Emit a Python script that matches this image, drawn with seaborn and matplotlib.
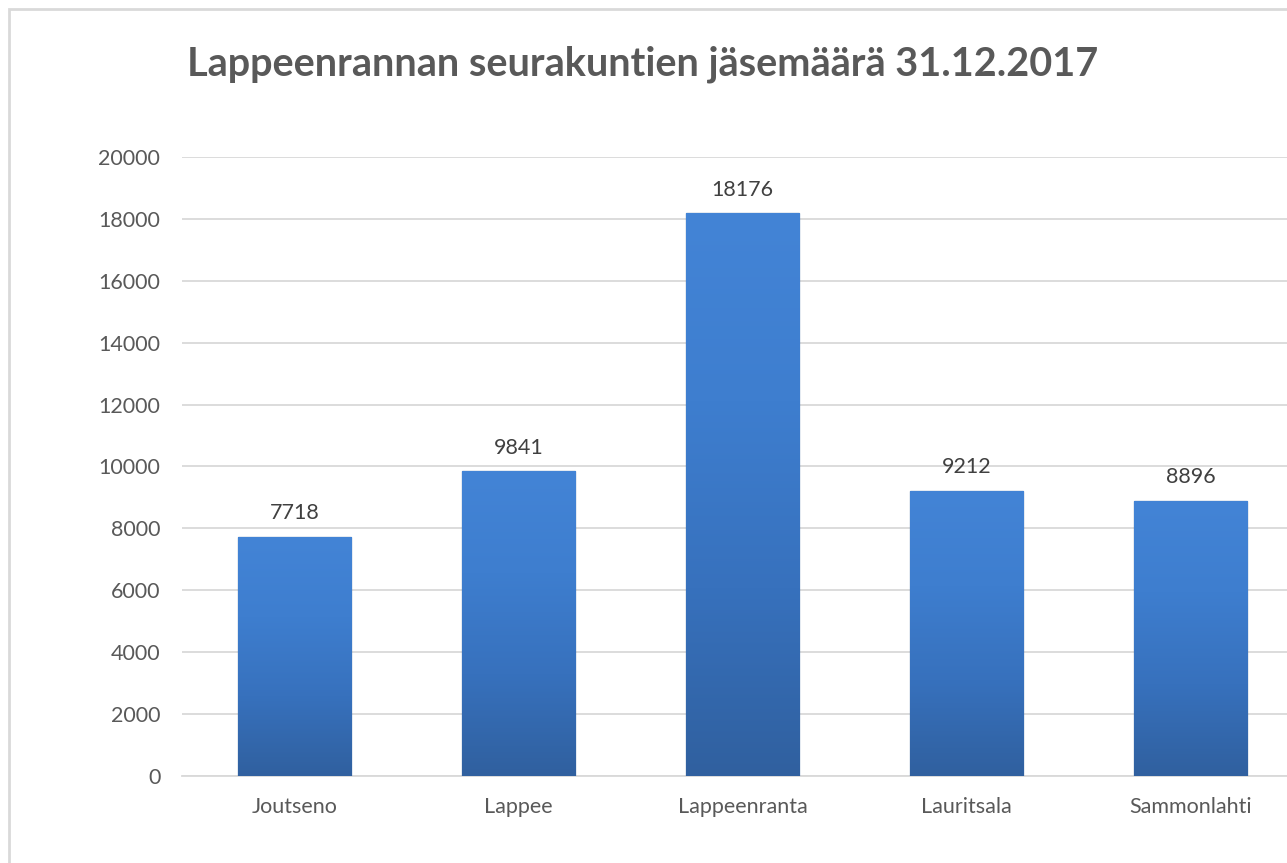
import numpy as np
import pandas as pd
import matplotlib
matplotlib.use('Agg')
import matplotlib.pyplot as plt
import matplotlib.patches as mpatches
from matplotlib.colors import LinearSegmentedColormap
import seaborn as sns

# Data
parishes = ['Joutseno', 'Lappee', 'Lappeenranta', 'Lauritsala', 'Sammonlahti']
members = [7718, 9841, 18176, 9212, 8896]
y_ticks = [0, 2000, 4000, 6000, 8000, 10000, 12000, 14000, 16000, 18000, 20000]

df = pd.DataFrame({'parish': parishes, 'members': members})

sns.set_theme(style='white')
plt.rcParams['font.family'] = ['Lato', 'DejaVu Sans']

fig = plt.figure(figsize=(12.87, 8.63), dpi=100)
ax = fig.add_axes([0.1418, 0.1008, 0.8703, 0.7173])

sns.barplot(data=df, x='parish', y='members', color='#3d7ed2', width=0.505,
            ax=ax, zorder=3, edgecolor='#2c5996', linewidth=0.9)

# vertical gradient inside each bar
cmap = LinearSegmentedColormap.from_list('bar', ['#30609f', '#3771bd', '#3e7ecf', '#4384d6'])
grad = np.linspace(0, 1, 256).reshape(-1, 1)
for p in ax.patches:
    x0, y0 = p.get_x(), p.get_y()
    w, h = p.get_width(), p.get_height()
    im = ax.imshow(grad, extent=[x0, x0 + w, y0, y0 + h], origin='lower',
                   cmap=cmap, aspect='auto', zorder=3.5)
    im.set_clip_path(p)

ax.set_xlim(-0.5, len(parishes) - 0.5)
ax.set_ylim(0, 20000)
ax.set_yticks(y_ticks)
ax.yaxis.grid(True, color='#d9d9d9', linewidth=1.3, zorder=0)
ax.xaxis.grid(False)
for side in ['top', 'right', 'left']:
    ax.spines[side].set_visible(False)
ax.spines['bottom'].set_color('#d9d9d9')
ax.spines['bottom'].set_linewidth(1.3)
ax.tick_params(axis='both', length=0, labelsize=15.5, labelcolor='#595959')
ax.tick_params(axis='y', pad=16)
ax.tick_params(axis='x', pad=15)
ax.set_xlabel('')
ax.set_ylabel('')

ax.bar_label(ax.containers[0], labels=[str(v) for v in members], padding=10,
             fontsize=15.5, color='#404040')

fig.text(0.1455, 0.926, 'Lappeenrannan seurakuntien jäsemäärä 31.12.2017',
         fontsize=28.5, fontweight='bold', color='#595959', ha='left', va='center')

# chart frame
fig.patches.append(mpatches.Rectangle((9 / 1287, -0.1), 1.2, 1 - 9 / 863 + 0.1,
                                      transform=fig.transFigure, fill=False,
                                      edgecolor='#d9d9d9', linewidth=2))

fig.savefig('out.png', dpi=100, facecolor='white')
